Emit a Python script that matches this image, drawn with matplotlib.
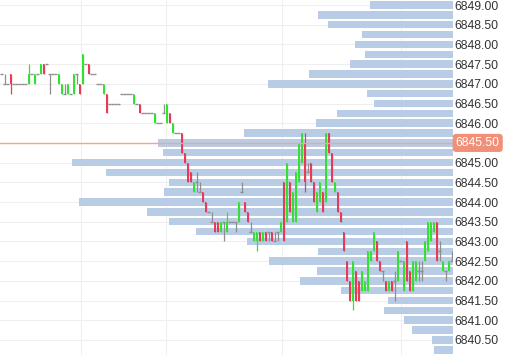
import matplotlib
matplotlib.use("Agg")
import matplotlib.pyplot as plt
import matplotlib.transforms as mtransforms
import numpy as np

plt.rcParams['font.family'] = ['Liberation Sans', 'DejaVu Sans']

# volume profile: price level -> bar length (top to bottom)
profile_prices = [6849.00, 6848.75, 6848.50, 6848.25, 6848.00, 6847.75, 6847.50, 6847.25,
                  6847.00, 6846.75, 6846.50, 6846.25, 6846.00, 6845.75, 6845.50, 6845.25,
                  6845.00, 6844.75, 6844.50, 6844.25, 6844.00, 6843.75, 6843.50, 6843.25,
                  6843.00, 6842.75, 6842.50, 6842.25, 6842.00, 6841.75, 6841.50, 6841.25,
                  6841.00, 6840.75, 6840.50, 6840.25]
profile_volume = [83, 135, 125, 91, 98, 88, 103, 144,
                  185, 86, 79, 116, 137, 209, 295, 290,
                  381, 347, 284, 289, 374, 306, 284, 257,
                  206, 135, 184, 136, 153, 112, 65, 69,
                  49, 41, 21, 19]

# candles
opens = [6847.25, 6847.00, 6847.00, 6847.25, 6847.00, 6847.00, 6847.00, 6847.00, 6847.00, 6847.00,
         6847.25, 6847.00, 6847.25, 6847.25, 6847.50, 6847.50, 6847.25, 6847.25, 6847.25, 6847.00,
         6846.75, 6846.75, 6846.75, 6846.75, 6846.75, 6847.25, 6847.00, 6847.00, 6847.50, 6847.50,
         6847.25, 6847.25, 6847.00, 6847.00, 6846.75, 6846.75, 6846.50, 6846.50, 6846.50, 6846.50,
         6846.75, 6846.75, 6846.75, 6846.75, 6846.50, 6846.50, 6846.50, 6846.25, 6846.25, 6846.25,
         6846.25, 6846.00, 6846.00, 6846.00, 6846.25, 6846.00, 6846.25, 6845.75, 6845.75, 6845.75,
         6845.75, 6845.25, 6845.00, 6844.75, 6844.25, 6844.50, 6844.25, 6844.25, 6844.00, 6843.75,
         6843.50, 6843.50, 6843.50, 6843.25, 6843.50, 6843.25, 6843.50, 6843.50, 6843.50, 6843.50,
         6844.25, 6844.00, 6843.75, 6843.25, 6843.00, 6843.00, 6843.25, 6843.00, 6843.25, 6843.25,
         6843.25, 6843.00, 6843.25, 6843.25, 6844.50, 6843.50, 6844.50, 6843.50, 6843.50, 6844.50,
         6845.00, 6845.50, 6844.75, 6845.00, 6844.50, 6843.75, 6844.00, 6844.25, 6844.00, 6845.75,
         6845.25, 6844.25, 6844.25, 6843.75, 6843.25, 6842.50, 6842.00, 6841.50, 6842.25, 6842.00,
         6841.75, 6841.75, 6841.75, 6842.50, 6842.75, 6843.00, 6842.50, 6842.25, 6842.00, 6841.75,
         6842.00, 6842.00, 6842.00, 6842.50, 6841.75, 6843.00, 6842.25, 6841.75, 6842.00, 6842.25,
         6842.25, 6842.50, 6842.75, 6843.00, 6843.25, 6843.50, 6842.75, 6842.25, 6842.25, 6842.25,
         6842.50]
highs = [6847.25, 6847.25, 6847.00, 6847.25, 6847.00, 6847.00, 6847.00, 6847.00, 6847.00, 6847.50,
         6847.25, 6847.25, 6847.25, 6847.50, 6847.50, 6847.50, 6847.25, 6847.25, 6847.25, 6847.25,
         6847.00, 6847.00, 6847.00, 6846.75, 6847.25, 6847.25, 6847.00, 6847.75, 6847.50, 6847.50,
         6847.25, 6847.25, 6847.00, 6847.00, 6847.00, 6846.75, 6846.50, 6846.50, 6846.50, 6846.50,
         6846.75, 6846.75, 6846.75, 6846.75, 6846.75, 6846.50, 6846.50, 6846.25, 6846.25, 6846.25,
         6846.25, 6846.25, 6846.00, 6846.00, 6846.50, 6846.50, 6846.25, 6846.00, 6845.75, 6845.75,
         6845.75, 6845.25, 6845.00, 6844.75, 6844.50, 6844.75, 6844.50, 6844.25, 6844.00, 6843.75,
         6843.75, 6843.50, 6843.50, 6843.50, 6843.50, 6843.75, 6843.50, 6843.50, 6843.50, 6844.00,
         6844.50, 6844.00, 6843.75, 6843.50, 6843.25, 6843.25, 6843.25, 6843.25, 6843.25, 6843.25,
         6843.25, 6843.25, 6843.25, 6843.50, 6844.50, 6845.00, 6844.50, 6844.25, 6844.75, 6845.50,
         6845.75, 6845.75, 6845.00, 6845.00, 6844.50, 6844.25, 6844.50, 6844.25, 6845.75, 6845.75,
         6845.25, 6844.50, 6844.25, 6843.75, 6843.25, 6842.50, 6842.00, 6842.50, 6842.25, 6842.00,
         6842.25, 6842.00, 6842.75, 6842.75, 6843.25, 6843.00, 6842.50, 6842.25, 6842.00, 6842.00,
         6842.00, 6842.25, 6842.75, 6842.50, 6842.50, 6843.00, 6842.25, 6842.50, 6842.50, 6842.50,
         6842.50, 6843.00, 6843.50, 6843.50, 6843.50, 6843.50, 6843.00, 6842.50, 6842.25, 6842.50,
         6842.75]
lows = [6847.25, 6847.00, 6847.00, 6846.75, 6847.00, 6847.00, 6847.00, 6847.00, 6847.00, 6847.00,
        6847.25, 6847.00, 6847.25, 6847.25, 6847.25, 6847.50, 6846.75, 6847.25, 6847.25, 6847.00,
        6846.75, 6846.75, 6846.75, 6846.75, 6846.75, 6847.00, 6846.75, 6847.00, 6847.50, 6847.25,
        6847.25, 6847.25, 6847.00, 6847.00, 6846.75, 6846.25, 6846.50, 6846.50, 6846.50, 6846.50,
        6846.75, 6846.75, 6846.75, 6846.75, 6846.50, 6846.50, 6846.25, 6846.25, 6846.25, 6846.25,
        6846.25, 6846.00, 6846.00, 6846.00, 6846.25, 6846.00, 6846.00, 6845.75, 6845.75, 6845.75,
        6845.25, 6845.00, 6844.50, 6844.50, 6844.25, 6844.25, 6844.25, 6844.00, 6843.75, 6843.75,
        6843.50, 6843.25, 6843.25, 6843.25, 6843.00, 6843.25, 6843.50, 6843.50, 6843.25, 6843.50,
        6844.25, 6843.75, 6843.50, 6843.25, 6843.00, 6842.75, 6843.00, 6843.00, 6843.00, 6843.00,
        6843.00, 6843.00, 6843.00, 6843.25, 6843.00, 6843.50, 6843.75, 6843.50, 6843.50, 6844.50,
        6845.00, 6844.25, 6844.75, 6844.50, 6844.00, 6843.75, 6844.00, 6843.75, 6844.00, 6845.25,
        6844.50, 6844.25, 6843.75, 6843.50, 6842.75, 6842.00, 6841.50, 6841.25, 6841.50, 6841.50,
        6841.75, 6841.75, 6841.75, 6842.50, 6842.75, 6842.50, 6842.25, 6842.00, 6841.75, 6841.75,
        6841.75, 6841.50, 6842.00, 6842.50, 6841.75, 6842.00, 6841.75, 6841.75, 6842.00, 6842.00,
        6842.00, 6842.50, 6842.75, 6843.00, 6843.25, 6842.50, 6842.50, 6842.25, 6842.00, 6842.25,
        6842.50]
closes = [6847.25, 6847.00, 6847.00, 6847.00, 6847.00, 6847.00, 6847.00, 6847.00, 6847.00, 6847.25,
          6847.25, 6847.25, 6847.25, 6847.50, 6847.25, 6847.50, 6847.25, 6847.25, 6847.25, 6847.25,
          6847.00, 6846.75, 6847.00, 6846.75, 6847.25, 6847.25, 6846.75, 6847.75, 6847.50, 6847.25,
          6847.25, 6847.25, 6847.00, 6847.00, 6847.00, 6846.25, 6846.50, 6846.50, 6846.50, 6846.50,
          6846.75, 6846.75, 6846.75, 6846.75, 6846.75, 6846.50, 6846.25, 6846.25, 6846.25, 6846.25,
          6846.25, 6846.25, 6846.00, 6846.00, 6846.25, 6846.50, 6846.00, 6846.00, 6845.75, 6845.75,
          6845.25, 6845.00, 6844.50, 6844.50, 6844.50, 6844.50, 6844.25, 6844.00, 6843.75, 6843.75,
          6843.50, 6843.25, 6843.25, 6843.50, 6843.50, 6843.50, 6843.50, 6843.50, 6843.50, 6844.00,
          6844.25, 6843.75, 6843.50, 6843.25, 6843.25, 6843.25, 6843.00, 6843.25, 6843.00, 6843.25,
          6843.00, 6843.00, 6843.25, 6843.50, 6843.00, 6845.00, 6843.75, 6844.25, 6844.75, 6845.50,
          6845.75, 6844.50, 6844.75, 6844.50, 6844.00, 6844.25, 6844.50, 6843.75, 6845.75, 6845.25,
          6844.50, 6844.50, 6843.75, 6843.50, 6842.75, 6842.00, 6841.50, 6842.50, 6841.50, 6841.50,
          6842.25, 6842.00, 6842.75, 6842.75, 6843.25, 6842.50, 6842.25, 6842.25, 6841.75, 6842.00,
          6841.75, 6842.00, 6842.75, 6842.50, 6842.50, 6842.00, 6841.75, 6842.50, 6842.50, 6842.25,
          6842.25, 6843.00, 6843.50, 6843.50, 6843.50, 6842.50, 6842.75, 6842.50, 6842.25, 6842.50,
          6842.50]

last_price = 6845.50
price_ticks = [6840.50, 6841.00, 6841.50, 6842.00, 6842.50, 6843.00, 6843.50, 6844.00, 6844.50,
               6845.00, 6845.50, 6846.00, 6846.50, 6847.00, 6847.50, 6848.00, 6848.50, 6849.00]
time_grid = [26.5, 54.8, 93.5, 133.2]

up_col = '#35e035'
down_col = '#e63a57'
flat_col = '#8e8e8e'

fig = plt.figure(figsize=(5.1, 3.55), dpi=100)
ax = fig.add_axes([0, 0, 453 / 510, 1])

# volume profile (drawn from the right edge leftwards)
ax.barh(profile_prices, profile_volume, height=0.19, left=0, color='#b9cce6', lw=0, zorder=2)
ax.set_xlim(453, 0)
ax.set_ylim(6840.117, 6849.127)
ax.set_yticks(price_ticks)
ax.set_yticklabels(["" if p == last_price else f"{p:.2f}" for p in price_ticks])
ax.yaxis.tick_right()
ax.tick_params(axis='y', length=0, pad=1.3, labelsize=8.8, labelcolor='#333333')
ax.set_xticks([])
ax.grid(axis='y', color='#efefef', lw=0.8)
ax.set_axisbelow(True)
for s in ax.spines.values():
    s.set_visible(False)

# candles on a twin axis so they sit above the profile
axc = ax.twiny()
n = len(opens)
axc.set_xlim(-0.5, n - 0.5)
axc.set_xticks([])
for s in axc.spines.values():
    s.set_visible(False)

blend = mtransforms.blended_transform_factory(axc.transData, ax.transAxes)
ax.vlines(time_grid, 0, 1, transform=blend, color='#efefef', lw=0.8, zorder=0)

x = np.arange(n)
o = np.array(opens)
h = np.array(highs)
l = np.array(lows)
c = np.array(closes)
cols = np.where(c > o, up_col, np.where(c < o, down_col, flat_col))

axc.vlines(x, l, h, colors=cols, lw=0.9, zorder=3)
body = c != o
axc.bar(x[body], (c - o)[body], bottom=o[body], width=0.55, color=cols[body], lw=0, zorder=3)
flat = ~body
axc.hlines(c[flat], x[flat] - 0.45, x[flat] + 0.45, colors=flat_col, lw=1.0, zorder=3)

# last price line and label
axc.axhline(last_price, color='#f4a58f', lw=1.0, zorder=4)
lbl = mtransforms.blended_transform_factory(ax.transAxes, ax.transData)
ax.text(1.006, last_price, f"{last_price:.2f}", transform=lbl, ha='left', va='center',
        fontsize=8.8, color='white', clip_on=False, zorder=10,
        bbox=dict(boxstyle='round,pad=0.25,rounding_size=0.3', fc='#f28f78', ec='none'))

fig.savefig("out.png", dpi=100)
